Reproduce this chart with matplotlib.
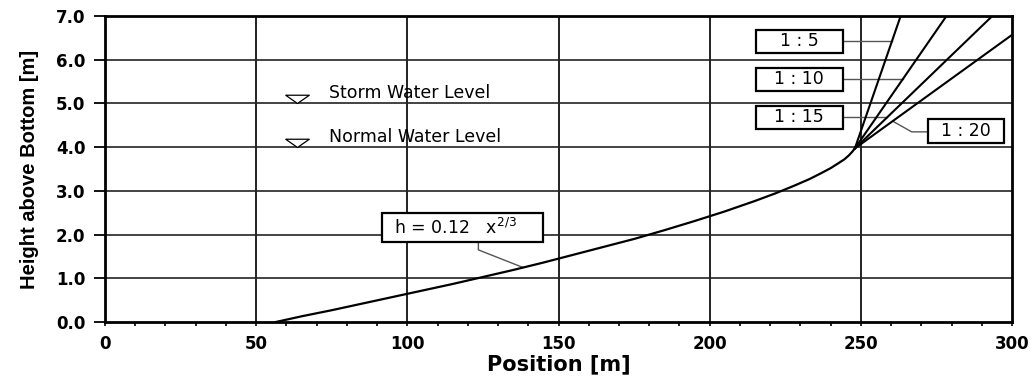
import numpy as np
import matplotlib.pyplot as plt
from matplotlib.patches import Rectangle

# beach profile: position [m], height above bottom [m]
profile_x = [56.5, 65, 75, 85, 95, 105, 115, 125, 135, 145, 155, 165, 175, 185,
             195, 205, 215, 222, 228, 233, 237, 240, 242.5, 244.5, 246, 247.2, 248]
profile_h = [0.0, 0.13, 0.27, 0.42, 0.57, 0.72, 0.87, 1.03, 1.19, 1.36, 1.54, 1.72,
             1.90, 2.10, 2.31, 2.53, 2.77, 2.95, 3.12, 3.27, 3.41, 3.52, 3.63,
             3.72, 3.81, 3.90, 3.97]

# upper beach slopes 1:n starting where the profile ends
slope_n = [5, 10, 15, 20]
slope_labels = ["1 : 5", "1 : 10", "1 : 15", "1 : 20"]

# water levels
level_names = ["Storm Water Level", "Normal Water Level"]
level_h = [5.0, 4.0]

formula = r"h = 0.12   x$^{\mathregular{2/3}}$"

x_ticks = [0, 50, 100, 150, 200, 250, 300]
y_ticks = [0.0, 1.0, 2.0, 3.0, 4.0, 5.0, 6.0, 7.0]


def main():
    fig = plt.figure(figsize=(10.32, 3.76), dpi=100)
    ax = fig.add_axes([0.1017, 0.1436, 0.879, 0.8138])

    ax.set_xlim(0, 300)
    ax.set_ylim(0, 7)

    # grid
    for x in x_ticks[1:-1]:
        ax.axvline(x, color='#222222', lw=1.4, zorder=1)
    for y in y_ticks[1:-1]:
        ax.axhline(y, color='#222222', lw=1.2, zorder=1)

    ax.plot(profile_x, profile_h, color='black', lw=1.6, zorder=3)

    x0, h0 = profile_x[-1], profile_h[-1]
    xs = np.array([x0, 300.0])
    for n in slope_n:
        ax.plot(xs, h0 + (xs - x0) / n, color='black', lw=1.5, zorder=3)

    # slope labels in boxes with leader lines
    box_h = [(6.16, 6.68), (5.29, 5.81), (4.42, 4.94)]
    for (b0, b1), n, lab in zip(box_h, slope_n[:3], slope_labels[:3]):
        ax.add_patch(Rectangle((215.2, b0), 28.8, b1 - b0, fill=False,
                               ec='black', lw=1.6, zorder=4))
        yc = (b0 + b1) / 2
        ax.text(229.6, yc, lab, ha='center', va='center', fontsize=12.5,
                family='DejaVu Sans', zorder=5)
        ax.plot([244.0, x0 + (yc - h0) * n], [yc, yc], color='#555555',
                lw=1.0, zorder=2)

    ax.add_patch(Rectangle((272.2, 4.10), 25.2, 0.55, fill=False,
                           ec='black', lw=1.6, zorder=4))
    ax.text(284.8, 4.375, slope_labels[3], ha='center', va='center',
            fontsize=12.5, family='DejaVu Sans', zorder=5)
    xl = x0 + 12.5
    ax.plot([272.2, 266.8, xl], [4.35, 4.35, h0 + (xl - x0) / slope_n[3]],
            color='#555555', lw=1.0, zorder=2)

    # profile formula
    ax.add_patch(Rectangle((91.7, 1.83), 53.3, 0.66, fc='white',
                           ec='black', lw=1.6, zorder=4))
    ax.text(95.5, 2.16, formula, ha='left', va='center', fontsize=12.5,
            family='DejaVu Sans', zorder=5)
    xc = 138.3
    ax.plot([123.5, 123.5, xc], [1.83, 1.65, np.interp(xc, profile_x, profile_h)],
            color='#555555', lw=1.0, zorder=2)

    # water level markers
    tri = [(-1, 0.7), (1, 0.7), (0, 0), (-1, 0.7)]
    for name, h in zip(level_names, level_h):
        ax.plot([63.5], [h], marker=tri, markersize=17, mfc='white',
                mec='black', mew=0.9, ls='none', zorder=5)
        ax.text(74, h + 0.24, name, ha='left', va='center', fontsize=12.5,
                family='DejaVu Sans', zorder=5)

    for side in ['left', 'right', 'top', 'bottom']:
        ax.spines[side].set_linewidth(2.0)
        ax.spines[side].set_zorder(6)

    ax.set_xticks(x_ticks)
    ax.set_xticks(np.arange(0, 301, 10), minor=True)
    ax.set_yticks(y_ticks)
    ax.set_yticklabels(['%.1f' % v for v in y_ticks])
    ax.tick_params(axis='x', which='both', direction='out', length=3, width=1.2, pad=6)
    ax.tick_params(axis='y', which='major', direction='out', length=8, width=1.3, pad=6)
    for lab in ax.get_xticklabels() + ax.get_yticklabels():
        lab.set_family('DejaVu Sans')
        lab.set_fontweight('bold')
        lab.set_fontsize(12)

    ax.set_xlabel('Position [m]', family='DejaVu Sans', fontweight='bold',
                  fontsize=15, labelpad=1)
    ax.set_ylabel('Height above Bottom [m]', family='Liberation Sans',
                  fontweight='bold', fontsize=14.5, labelpad=12)

    fig.savefig('out.png', dpi=100)


if __name__ == '__main__':
    main()
